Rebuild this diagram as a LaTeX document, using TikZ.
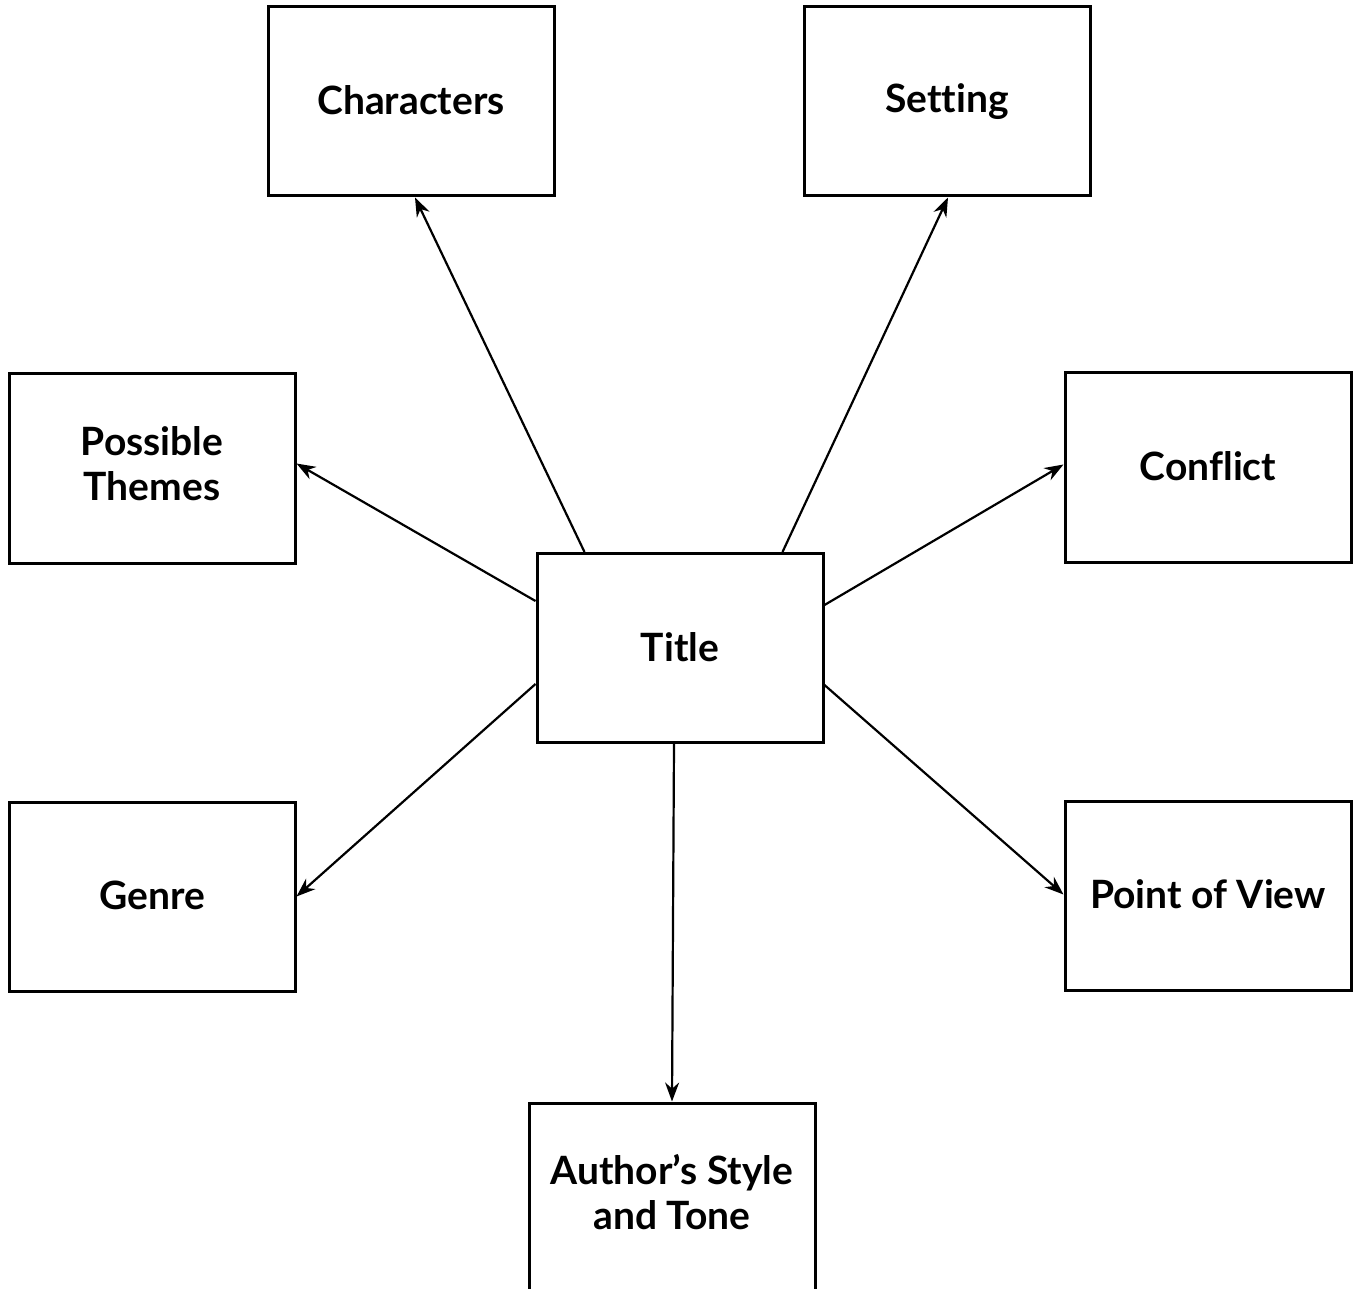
\documentclass[tikz,border=0pt]{standalone}
\usepackage{fontspec}
\setmainfont[Ligatures=NoCommon]{Lato}
\usetikzlibrary{arrows.meta,calc}
\newcommand{\twolines}[2]{\raisebox{4pt}{\begin{tabular}{@{}c@{}}#1\\#2\end{tabular}}}
\begin{document}
\begin{tikzpicture}[x=1pt,y=-1pt,
  box/.style={draw, line width=3pt, minimum width=286pt, minimum height=189pt, inner sep=0pt, align=center, font=\fontsize{39}{45}\selectfont\bfseries},
  conn/.style={line width=2.2pt, -{Stealth[length=19pt,width=14pt]}}]
\useasboundingbox (0,0) rectangle (1358,1289);
\clip (0,0) rectangle (1358,1289);
\node[box] (ch) at (411,101.5) {\raisebox{2pt}{Characters}};
\node[box] (se) at (947,101.5) {\raisebox{2pt}{Setting}};
\node[box] (th) at (152,468.5) {\twolines{Possible}{Themes}};
\node[box] (co) at (1208,467.5) {\raisebox{2pt}{Conflict}};
\node[box] (ti) at (680,648) {\raisebox{2pt}{Title}};
\node[box] (ge) at (152,896.5) {\raisebox{2pt}{Genre}};
\node[box] (pv) at (1208,895.5) {\raisebox{2pt}{Point of View}};
\node[box] (au) at (672,1197.5) {\twolines{Author’s Style}{and Tone}};
\draw[conn] ([xshift=49pt]ti.north west) -- ([xshift=4pt]ch.south);
\draw[conn] ([xshift=-42pt]ti.north east) -- ([xshift=1pt]se.south);
\draw[conn] ([yshift=-49pt]ti.north west) -- ([yshift=5pt]th.east);
\draw[conn] ([yshift=-53pt]ti.north east) -- ([yshift=3pt]co.west);
\draw[conn] ([yshift=60pt]ti.south west) -- ([yshift=0pt]ge.east);
\draw[conn] ([yshift=59pt]ti.south east) -- ([yshift=1pt]pv.west);
\draw[conn] ([xshift=-6pt]ti.south) -- (au.north);
\end{tikzpicture}
\end{document}
